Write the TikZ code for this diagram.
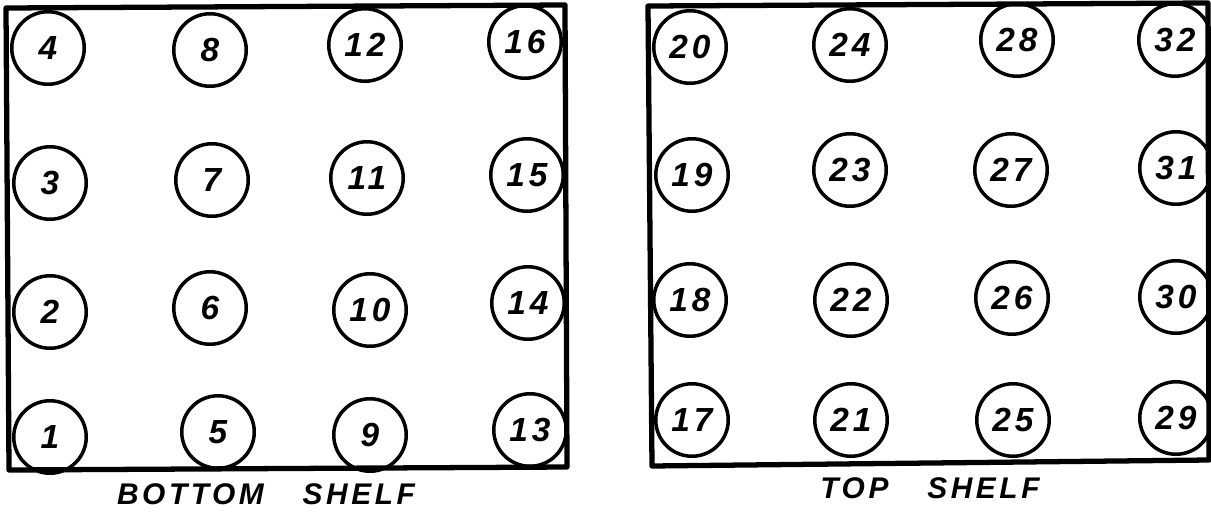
\documentclass[tikz,border=0pt]{standalone}
\usepackage{fontspec}
\setsansfont{Liberation Sans}
\newfontfamily\lettering[LetterSpace=12]{Liberation Sans}
\usetikzlibrary{positioning}

\begin{document}
\begin{tikzpicture}[
  x=0.02cm, y=-0.02cm,
  jar/.style={draw, circle, line width=2pt, minimum size=1.45cm, inner sep=0pt,
    font=\lettering\itshape\bfseries\fontsize{19}{19}\selectfont},
  shelf/.style={line width=3pt, line join=round},
  caption/.style={font=\lettering\itshape\bfseries\fontsize{17}{17}\selectfont, anchor=base}
]
\useasboundingbox (0,0) rectangle (1211,514);

% bottom shelf
\draw[shelf] (6,8) -- (565,5) -- (567,467) -- (9,470) -- cycle;
\foreach \n/\px/\py in {4/48/48, 8/210/50, 12/365/45, 16/525/42,
    3/50/183, 7/212/180, 11/367/178, 15/527/175,
    2/50/312, 6/210/308, 10/370/310, 14/528/303,
    1/50/437, 5/218/432, 9/370/435, 13/530/430}
  \node[jar] (c\n) at (\px,\py) {\n};
\node[caption] (bcap) at (266,504) {BOTTOM\hspace{1.3em}SHELF};

% top shelf
\draw[shelf] (648,6) -- (1208,3) -- (1209,460) -- (652,466) -- cycle;
\foreach \n/\px/\py in {20/690/47, 24/850/45, 28/1017/40, 32/1175/40,
    19/692/175, 23/850/170, 27/1011/170, 31/1176/168,
    18/690/300, 22/851/300, 26/1012/298, 30/1176/297,
    17/692/420, 21/851/420, 25/1013/420, 29/1176/418}
  \node[jar] (c\n) at (\px,\py) {\n};
\node[caption] (tcap) at (930,498) {TOP\hspace{1.3em}SHELF};

\end{tikzpicture}
\end{document}
